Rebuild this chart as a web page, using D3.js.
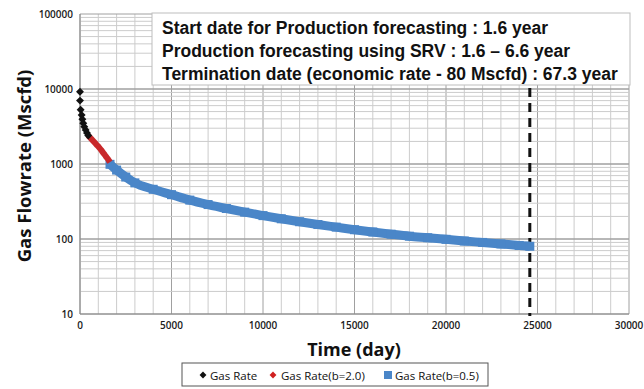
<!DOCTYPE html>
<html><head><meta charset="utf-8">
<script src="https://cdn.jsdelivr.net/npm/d3@7"></script>
<style>body{margin:0;background:#fff}svg{display:block}</style>
</head><body><svg id="c" width="644" height="389"></svg>
<script>
// ---- data ----
const measuredDays  = [0, 0, 35, 90, 130, 180, 235, 310, 380, 450];
const measuredRate  = [9200, 7000, 5300, 4500, 3950, 3500, 3150, 2850, 2600, 2400];
const b2Days  = [450, 550, 650, 750, 850, 950, 1050, 1150, 1250, 1350, 1450, 1550, 1640];
const b2Rate  = [2400, 2250, 2120, 1990, 1870, 1760, 1650, 1540, 1430, 1330, 1230, 1140, 1060];
const b05Days = [1640, 2000, 2500, 3000, 4000, 5000, 6000, 7000, 8000, 9000, 10000, 11000, 12000, 13000, 14000, 15000, 16000, 17000, 18000, 19000, 20000, 21000, 22000, 23000, 24000, 24580];
const b05Rate = [990, 830, 670, 560, 460, 390, 330, 288, 255, 228, 205, 186, 170, 156, 144, 133, 124, 116, 109, 104, 99, 94, 90, 86, 82, 80];
const xTicks = [0, 5000, 10000, 15000, 20000, 25000, 30000];
const yTicks = [10, 100, 1000, 10000, 100000];
const terminationDay = 24580;
const notes = ["Start date for Production forecasting : 1.6 year",
               "Production forecasting using SRV : 1.6 \u2013 6.6 year",
               "Termination date (economic rate - 80 Mscfd) : 67.3 year"];
const legendNames = ["Gas Rate", "Gas Rate(b=2.0)", "Gas Rate(b=0.5)"];

const svg = d3.select("#c");
const L = 80, R = 629, T = 14, B = 314;
const x = d3.scaleLinear().domain([0, 30000]).range([L, R]);
const y = d3.scaleLog().domain([10, 100000]).range([B, T]);

// grid
const g = svg.append("g");
const minorX = d3.range(0, 30001, 1000);
g.selectAll(".vx").data(minorX).join("line")
  .attr("x1", d => x(d)).attr("x2", d => x(d)).attr("y1", T).attr("y2", B)
  .attr("stroke", d => d % 5000 === 0 ? "#a0a0a0" : "#cccccc").attr("stroke-width", 1);
const minorY = [];
[10, 100, 1000, 10000].forEach(dec => { for (let k = 1; k <= 10; k++) minorY.push(dec * k); });
g.selectAll(".hy").data(minorY).join("line")
  .attr("x1", L).attr("x2", R).attr("y1", d => y(d)).attr("y2", d => y(d))
  .attr("stroke", d => yTicks.includes(d) ? "#a0a0a0" : "#cccccc").attr("stroke-width", 1);
// axes lines
svg.append("line").attr("x1", L).attr("x2", L).attr("y1", T).attr("y2", B).attr("stroke", "#888");
svg.append("line").attr("x1", L).attr("x2", R).attr("y1", B).attr("y2", B).attr("stroke", "#888");

// tick labels
svg.selectAll(".xl").data(xTicks).join("text")
  .attr("x", d => x(d)).attr("y", 329).attr("text-anchor", "middle")
  .attr("font-family", "Open Sans, sans-serif").attr("font-size", 10).attr("font-weight", 600).attr("fill", "#1a1a1a")
  .text(d => d);
svg.selectAll(".yl").data(yTicks).join("text")
  .attr("x", 73).attr("y", d => y(d) + 3.5).attr("text-anchor", "end")
  .attr("font-family", "Open Sans, sans-serif").attr("font-size", 10).attr("font-weight", 600).attr("fill", "#1a1a1a")
  .text(d => d);

// axis titles
svg.append("text").attr("x", 354).attr("y", 356).attr("text-anchor", "middle")
  .attr("font-family", "Open Sans, sans-serif").attr("font-weight", "bold").attr("font-size", 18).attr("fill", "#111")
  .text("Time (day)");
svg.append("text").attr("transform", "translate(31,166) rotate(-90)").attr("text-anchor", "middle")
  .attr("font-family", "Open Sans, sans-serif").attr("font-weight", "bold").attr("font-size", 18.5).attr("fill", "#111")
  .text("Gas Flowrate (Mscfd)");

// note box
svg.append("rect").attr("x", 152).attr("y", 13).attr("width", 478).attr("height", 72)
  .attr("fill", "#fff").attr("stroke", "#bdbdbd");
svg.selectAll(".note").data(notes).join("text")
  .attr("x", 162).attr("y", (d, i) => 34 + i * 23)
  .attr("font-family", "Liberation Sans, Arial, sans-serif").attr("font-weight", "bold")
  .attr("font-size", 17.5).attr("fill", "#111").text(d => d);

// termination line
svg.append("line").attr("x1", x(terminationDay)).attr("x2", x(terminationDay))
  .attr("y1", 88).attr("y2", B + 2).attr("stroke", "#111").attr("stroke-width", 3)
  .attr("stroke-dasharray", "9,6");

// series
const blue = b05Days.map((d, i) => [d, b05Rate[i]]);
const red = b2Days.map((d, i) => [d, b2Rate[i]]);
const black = measuredDays.map((d, i) => [d, measuredRate[i]]);
const line = d3.line().x(d => x(d[0])).y(d => y(d[1])).curve(d3.curveMonotoneX);
svg.append("path").attr("d", line(blue)).attr("fill", "none").attr("stroke", "#4a86c8").attr("stroke-width", 9);
svg.selectAll(".bs").data(blue).join("rect")
  .attr("x", d => x(d[0]) - 4.5).attr("y", d => y(d[1]) - 4.5).attr("width", 9).attr("height", 9).attr("fill", "#4a86c8");
svg.append("path").attr("d", line(red)).attr("fill", "none").attr("stroke", "#c8282a").attr("stroke-width", 6);
const diamond = d3.symbol().type(d3.symbolDiamond2 || d3.symbolDiamond).size(40);
svg.selectAll(".km").data(black).join("path")
  .attr("transform", d => `translate(${x(d[0])},${y(d[1])})`).attr("d", diamond).attr("fill", "#111");

// legend
svg.append("rect").attr("x", 182).attr("y", 363).attr("width", 306).attr("height", 23)
  .attr("fill", "#fff").attr("stroke", "#555");
const lg = [{sx: 203, tx: 210, c: "#111", t: "d"}, {sx: 273, tx: 281, c: "#d02020", t: "d"}, {sx: 388, tx: 395, c: "#4a86c8", t: "s"}];
lg.forEach((o, i) => {
  if (o.t === "d") svg.append("path").attr("transform", `translate(${o.sx},375)`).attr("d", d3.symbol().type(d3.symbolDiamond2 || d3.symbolDiamond).size(30)()).attr("fill", o.c);
  else svg.append("rect").attr("x", o.sx - 4).attr("y", 371).attr("width", 8).attr("height", 8).attr("fill", o.c);
  svg.append("text").attr("x", o.tx).attr("y", 379.5).attr("font-family", "Open Sans, sans-serif")
    .attr("font-size", 11.5).attr("fill", "#111").text(legendNames[i]);
});
</script></body></html>
